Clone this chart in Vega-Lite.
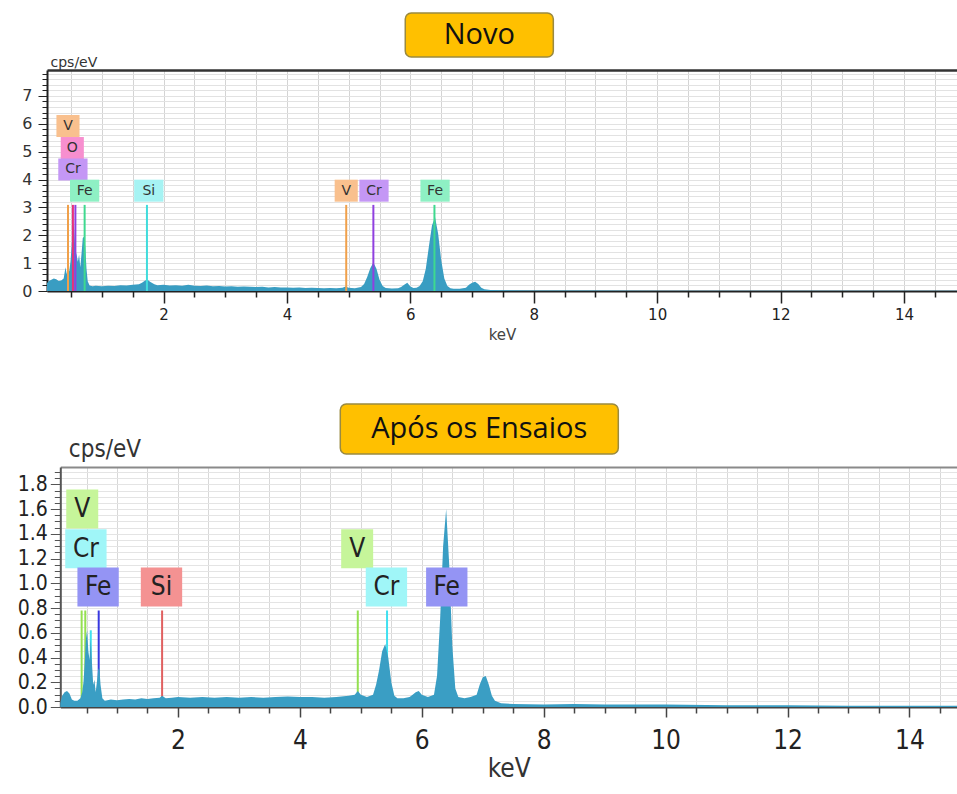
{
  "$schema": "https://vega.github.io/schema/vega-lite/v6.json",
  "padding": {"left": 17, "top": 12, "right": 0, "bottom": 0},
  "bounds": "flush",
  "spacing": 13,
  "resolve": {"scale": {"fill": "independent", "stroke": "independent"}},
  "config": {"view": {"stroke": null}},
  "datasets": {
    "novo": [
      {"keV": 0.11, "cps": 0.28}, {"keV": 0.14, "cps": 0.36}, {"keV": 0.18, "cps": 0.4}, {"keV": 0.22, "cps": 0.45},
      {"keV": 0.26, "cps": 0.42}, {"keV": 0.3, "cps": 0.36}, {"keV": 0.34, "cps": 0.38}, {"keV": 0.38, "cps": 0.45},
      {"keV": 0.41, "cps": 0.85}, {"keV": 0.43, "cps": 0.6}, {"keV": 0.45, "cps": 0.9}, {"keV": 0.47, "cps": 0.7},
      {"keV": 0.49, "cps": 1.05}, {"keV": 0.51, "cps": 1.6}, {"keV": 0.53, "cps": 2.45}, {"keV": 0.55, "cps": 2.2},
      {"keV": 0.57, "cps": 1.45}, {"keV": 0.59, "cps": 1.3}, {"keV": 0.61, "cps": 1.05}, {"keV": 0.63, "cps": 1.3},
      {"keV": 0.65, "cps": 0.85}, {"keV": 0.67, "cps": 1.35}, {"keV": 0.69, "cps": 1.9}, {"keV": 0.71, "cps": 1.95},
      {"keV": 0.73, "cps": 1.6}, {"keV": 0.75, "cps": 0.8}, {"keV": 0.77, "cps": 0.35}, {"keV": 0.8, "cps": 0.2},
      {"keV": 0.85, "cps": 0.17}, {"keV": 0.9, "cps": 0.19}, {"keV": 1.0, "cps": 0.17}, {"keV": 1.1, "cps": 0.19},
      {"keV": 1.2, "cps": 0.18}, {"keV": 1.3, "cps": 0.21}, {"keV": 1.4, "cps": 0.2}, {"keV": 1.5, "cps": 0.22},
      {"keV": 1.6, "cps": 0.24}, {"keV": 1.65, "cps": 0.3}, {"keV": 1.7, "cps": 0.38}, {"keV": 1.74, "cps": 0.4},
      {"keV": 1.78, "cps": 0.33}, {"keV": 1.85, "cps": 0.24}, {"keV": 1.9, "cps": 0.21}, {"keV": 2.0, "cps": 0.22},
      {"keV": 2.1, "cps": 0.2}, {"keV": 2.2, "cps": 0.21}, {"keV": 2.3, "cps": 0.19}, {"keV": 2.4, "cps": 0.22},
      {"keV": 2.5, "cps": 0.19}, {"keV": 2.6, "cps": 0.18}, {"keV": 2.7, "cps": 0.2}, {"keV": 2.8, "cps": 0.17},
      {"keV": 2.9, "cps": 0.18}, {"keV": 3.0, "cps": 0.16}, {"keV": 3.1, "cps": 0.17}, {"keV": 3.2, "cps": 0.15},
      {"keV": 3.3, "cps": 0.16}, {"keV": 3.4, "cps": 0.15}, {"keV": 3.5, "cps": 0.14}, {"keV": 3.6, "cps": 0.15},
      {"keV": 3.7, "cps": 0.13}, {"keV": 3.8, "cps": 0.14}, {"keV": 3.9, "cps": 0.13}, {"keV": 4.0, "cps": 0.13},
      {"keV": 4.1, "cps": 0.12}, {"keV": 4.2, "cps": 0.13}, {"keV": 4.3, "cps": 0.11}, {"keV": 4.4, "cps": 0.12},
      {"keV": 4.5, "cps": 0.11}, {"keV": 4.6, "cps": 0.1}, {"keV": 4.7, "cps": 0.11}, {"keV": 4.8, "cps": 0.1},
      {"keV": 4.9, "cps": 0.12}, {"keV": 4.95, "cps": 0.16}, {"keV": 5.0, "cps": 0.12}, {"keV": 5.1, "cps": 0.1},
      {"keV": 5.2, "cps": 0.14}, {"keV": 5.25, "cps": 0.25}, {"keV": 5.3, "cps": 0.5}, {"keV": 5.35, "cps": 0.82},
      {"keV": 5.4, "cps": 1.02}, {"keV": 5.45, "cps": 0.8}, {"keV": 5.5, "cps": 0.4}, {"keV": 5.55, "cps": 0.18},
      {"keV": 5.6, "cps": 0.11}, {"keV": 5.7, "cps": 0.09}, {"keV": 5.8, "cps": 0.1}, {"keV": 5.85, "cps": 0.14},
      {"keV": 5.9, "cps": 0.22}, {"keV": 5.95, "cps": 0.3}, {"keV": 6.0, "cps": 0.16}, {"keV": 6.05, "cps": 0.11},
      {"keV": 6.1, "cps": 0.12}, {"keV": 6.15, "cps": 0.18}, {"keV": 6.2, "cps": 0.35}, {"keV": 6.25, "cps": 0.8},
      {"keV": 6.3, "cps": 1.6}, {"keV": 6.35, "cps": 2.35}, {"keV": 6.4, "cps": 2.65}, {"keV": 6.45, "cps": 2.05},
      {"keV": 6.5, "cps": 1.1}, {"keV": 6.55, "cps": 0.45}, {"keV": 6.6, "cps": 0.18}, {"keV": 6.65, "cps": 0.1},
      {"keV": 6.7, "cps": 0.08}, {"keV": 6.8, "cps": 0.08}, {"keV": 6.9, "cps": 0.12}, {"keV": 6.95, "cps": 0.22},
      {"keV": 7.0, "cps": 0.3}, {"keV": 7.05, "cps": 0.33}, {"keV": 7.1, "cps": 0.25}, {"keV": 7.15, "cps": 0.12},
      {"keV": 7.2, "cps": 0.06}, {"keV": 7.3, "cps": 0.04}, {"keV": 7.5, "cps": 0.03}, {"keV": 8.0, "cps": 0.02},
      {"keV": 9.0, "cps": 0.015}, {"keV": 10.0, "cps": 0.01}, {"keV": 11.0, "cps": 0.01}, {"keV": 12.0, "cps": 0.01},
      {"keV": 13.0, "cps": 0.01}, {"keV": 14.0, "cps": 0.01}, {"keV": 14.86, "cps": 0.01}
    ],
    "novoLines": [
      {"el": "V", "line": 0.45, "h": 3.09}, {"el": "O", "line": 0.53, "h": 3.09}, {"el": "Cr", "line": 0.57, "h": 3.09},
      {"el": "Fe", "line": 0.72, "h": 3.09}, {"el": "Si", "line": 1.73, "h": 3.09}, {"el": "V", "line": 4.96, "h": 3.09},
      {"el": "Cr", "line": 5.4, "h": 3.09}, {"el": "Fe", "line": 6.39, "h": 3.09}
    ],
    "novoLabels": [
      {"el": "V", "lx": 0.45, "ly": 5.92}, {"el": "O", "lx": 0.52, "ly": 5.13}, {"el": "Cr", "lx": 0.53, "ly": 4.36},
      {"el": "Fe", "lx": 0.72, "ly": 3.6}, {"el": "Si", "lx": 1.76, "ly": 3.6}, {"el": "V", "lx": 4.96, "ly": 3.6},
      {"el": "Cr", "lx": 5.41, "ly": 3.6}, {"el": "Fe", "lx": 6.4, "ly": 3.6}
    ],
    "apos": [
      {"keV": 0.07, "cps": 0.03}, {"keV": 0.1, "cps": 0.09}, {"keV": 0.14, "cps": 0.12}, {"keV": 0.18, "cps": 0.13},
      {"keV": 0.22, "cps": 0.11}, {"keV": 0.26, "cps": 0.06}, {"keV": 0.3, "cps": 0.05}, {"keV": 0.35, "cps": 0.05},
      {"keV": 0.4, "cps": 0.07}, {"keV": 0.43, "cps": 0.12}, {"keV": 0.45, "cps": 0.2}, {"keV": 0.47, "cps": 0.35},
      {"keV": 0.49, "cps": 0.55}, {"keV": 0.51, "cps": 0.62}, {"keV": 0.53, "cps": 0.45}, {"keV": 0.55, "cps": 0.38},
      {"keV": 0.57, "cps": 0.55}, {"keV": 0.59, "cps": 0.35}, {"keV": 0.61, "cps": 0.18}, {"keV": 0.63, "cps": 0.22},
      {"keV": 0.65, "cps": 0.12}, {"keV": 0.67, "cps": 0.2}, {"keV": 0.69, "cps": 0.3}, {"keV": 0.71, "cps": 0.32},
      {"keV": 0.73, "cps": 0.18}, {"keV": 0.76, "cps": 0.07}, {"keV": 0.8, "cps": 0.05}, {"keV": 0.9, "cps": 0.06},
      {"keV": 1.0, "cps": 0.055}, {"keV": 1.1, "cps": 0.06}, {"keV": 1.2, "cps": 0.065}, {"keV": 1.3, "cps": 0.06},
      {"keV": 1.4, "cps": 0.07}, {"keV": 1.5, "cps": 0.065}, {"keV": 1.6, "cps": 0.07}, {"keV": 1.7, "cps": 0.075},
      {"keV": 1.74, "cps": 0.09}, {"keV": 1.8, "cps": 0.07}, {"keV": 1.9, "cps": 0.075}, {"keV": 2.0, "cps": 0.08},
      {"keV": 2.2, "cps": 0.075}, {"keV": 2.4, "cps": 0.08}, {"keV": 2.6, "cps": 0.075}, {"keV": 2.8, "cps": 0.08},
      {"keV": 3.0, "cps": 0.075}, {"keV": 3.2, "cps": 0.08}, {"keV": 3.4, "cps": 0.075}, {"keV": 3.6, "cps": 0.08},
      {"keV": 3.8, "cps": 0.085}, {"keV": 4.0, "cps": 0.08}, {"keV": 4.2, "cps": 0.08}, {"keV": 4.4, "cps": 0.075},
      {"keV": 4.6, "cps": 0.08}, {"keV": 4.8, "cps": 0.09}, {"keV": 4.9, "cps": 0.1}, {"keV": 4.95, "cps": 0.13},
      {"keV": 5.0, "cps": 0.1}, {"keV": 5.1, "cps": 0.08}, {"keV": 5.2, "cps": 0.1}, {"keV": 5.25, "cps": 0.18},
      {"keV": 5.3, "cps": 0.3}, {"keV": 5.35, "cps": 0.45}, {"keV": 5.4, "cps": 0.51}, {"keV": 5.45, "cps": 0.4},
      {"keV": 5.5, "cps": 0.2}, {"keV": 5.55, "cps": 0.09}, {"keV": 5.6, "cps": 0.07}, {"keV": 5.7, "cps": 0.07},
      {"keV": 5.8, "cps": 0.08}, {"keV": 5.85, "cps": 0.1}, {"keV": 5.9, "cps": 0.12}, {"keV": 5.95, "cps": 0.13},
      {"keV": 6.0, "cps": 0.1}, {"keV": 6.1, "cps": 0.08}, {"keV": 6.2, "cps": 0.1}, {"keV": 6.25, "cps": 0.25},
      {"keV": 6.3, "cps": 0.7}, {"keV": 6.35, "cps": 1.3}, {"keV": 6.4, "cps": 1.6}, {"keV": 6.45, "cps": 1.15},
      {"keV": 6.5, "cps": 0.5}, {"keV": 6.55, "cps": 0.15}, {"keV": 6.6, "cps": 0.08}, {"keV": 6.7, "cps": 0.07},
      {"keV": 6.8, "cps": 0.08}, {"keV": 6.9, "cps": 0.1}, {"keV": 6.95, "cps": 0.18}, {"keV": 7.0, "cps": 0.24},
      {"keV": 7.05, "cps": 0.25}, {"keV": 7.1, "cps": 0.18}, {"keV": 7.15, "cps": 0.09}, {"keV": 7.2, "cps": 0.05},
      {"keV": 7.3, "cps": 0.03}, {"keV": 7.5, "cps": 0.025}, {"keV": 8.0, "cps": 0.02}, {"keV": 8.5, "cps": 0.025},
      {"keV": 9.0, "cps": 0.02}, {"keV": 9.5, "cps": 0.02}, {"keV": 10.0, "cps": 0.02}, {"keV": 11.0, "cps": 0.015},
      {"keV": 12.0, "cps": 0.015}, {"keV": 13.0, "cps": 0.01}, {"keV": 14.0, "cps": 0.01}, {"keV": 14.78, "cps": 0.01}
    ],
    "aposLines": [
      {"el": "V", "line": 0.42, "h": 0.78}, {"el": "V", "line": 0.48, "h": 0.78}, {"el": "Cr", "line": 0.57, "h": 0.62},
      {"el": "Fe", "line": 0.7, "h": 0.78}, {"el": "Si", "line": 1.74, "h": 0.78}, {"el": "V", "line": 4.95, "h": 0.78},
      {"el": "Cr", "line": 5.43, "h": 0.78}, {"el": "Fe", "line": 6.4, "h": 0.78}
    ],
    "aposLabels": [
      {"el": "V", "lx": 0.43, "ly": 1.6}, {"el": "Cr", "lx": 0.49, "ly": 1.28}, {"el": "Fe", "lx": 0.69, "ly": 0.97},
      {"el": "Si", "lx": 1.73, "ly": 0.97}, {"el": "V", "lx": 4.94, "ly": 1.28}, {"el": "Cr", "lx": 5.42, "ly": 0.97},
      {"el": "Fe", "lx": 6.41, "ly": 0.97}
    ]
  },
  "vconcat": [
    {
      "width": 910,
      "height": 44,
      "data": {"values": [{"t": "Novo"}]},
      "layer": [
        {
          "mark": {"type": "rect", "fill": "#ffc000", "stroke": "#9a8a40", "strokeWidth": 1.5, "cornerRadius": 6},
          "encoding": {
            "x": {"datum": 0.3937, "type": "quantitative", "scale": {"domain": [0, 1]}, "axis": null},
            "x2": {"datum": 0.5564},
            "y": {"datum": 0, "type": "quantitative", "scale": {"domain": [0, 1]}, "axis": null},
            "y2": {"datum": 1}
          }
        },
        {
          "mark": {"type": "text", "font": "Open Sans", "fontSize": 29, "color": "#111", "baseline": "middle"},
          "encoding": {
            "x": {"datum": 0.475, "type": "quantitative", "scale": {"domain": [0, 1]}, "axis": null},
            "y": {"datum": 0.5, "type": "quantitative", "scale": {"domain": [0, 1]}, "axis": null},
            "text": {"field": "t"}
          }
        }
      ]
    },
    {
      "width": 910,
      "height": 221,
      "resolve": {"axis": {"x": "independent"}},
      "layer": [
        {
          "data": {"name": "novo"},
          "mark": {"type": "area", "color": "#399dc2"},
          "encoding": {
            "x": {
              "field": "keV", "type": "quantitative",
              "scale": {"domain": [0.11, 14.86], "nice": false, "zero": false},
              "axis": {
                "title": "keV", "tickCount": 200,
                "values": [0.5, 1, 1.5, 2, 2.5, 3, 3.5, 4, 4.5, 5, 5.5, 6, 6.5, 7, 7.5, 8, 8.5, 9, 9.5, 10, 10.5, 11, 11.5, 12, 12.5, 13, 13.5, 14, 14.5],
                "labelExpr": "datum.value % 2 === 0 ? format(datum.value, 'd') : ''",
                "labelOverlap": false, "labelFlush": false,
                "tickSize": {"condition": {"test": "datum.value % 2 === 0", "value": 12}, "value": 6},
                "tickColor": "#222", "tickWidth": 1.5, "domainColor": "#222", "domainWidth": 2,
                "grid": true, "gridColor": "#d4d4d4",
                "labelFont": "DejaVu Sans", "labelFontSize": 15, "labelColor": "#222", "labelPadding": 4,
                "titleFont": "DejaVu Sans", "titleFontSize": 15, "titleFontWeight": "normal", "titleColor": "#444", "titlePadding": 5
              }
            },
            "y": {
              "field": "cps", "type": "quantitative",
              "scale": {"domain": [0, 7.93], "nice": false},
              "axis": {
                "title": "cps/eV", "titleAngle": 0, "titleAlign": "left", "titleBaseline": "alphabetic", "titleX": 3, "titleY": -4,
                "titleFont": "DejaVu Sans", "titleFontSize": 14, "titleFontWeight": "normal", "titleColor": "#333",
                "tickCount": 200,
                "values": [0, 0.2, 0.4, 0.6, 0.8, 1, 1.2, 1.4, 1.6, 1.8, 2, 2.2, 2.4, 2.6, 2.8, 3, 3.2, 3.4, 3.6, 3.8, 4, 4.2, 4.4, 4.6, 4.8, 5, 5.2, 5.4, 5.6, 5.8, 6, 6.2, 6.4, 6.6, 6.8, 7, 7.2, 7.4, 7.6, 7.8],
                "labelExpr": "datum.value % 1 === 0 ? format(datum.value, 'd') : ''",
                "labelOverlap": false, "labelFlush": false,
                "tickSize": {"condition": {"test": "datum.value % 1 === 0", "value": 9}, "value": 5},
                "tickColor": "#222", "domainColor": "#222", "domainWidth": 2,
                "grid": true, "gridColor": "#e2e2e2",
                "labelFont": "DejaVu Sans", "labelFontSize": 16, "labelColor": "#333", "labelPadding": 6
              }
            }
          }
        },
        {
          "data": {"name": "novoLines"},
          "mark": {"type": "rule", "strokeWidth": 2},
          "encoding": {
            "x": {
              "field": "line", "type": "quantitative",
              "scale": {"domain": [0.11, 14.86], "nice": false, "zero": false},
              "axis": {"orient": "top", "labels": false, "ticks": false, "grid": false, "title": null, "domainColor": "#333", "domainWidth": 2.5}
            },
            "y": {"field": "h", "type": "quantitative", "scale": {"domain": [0, 7.93], "nice": false}},
            "y2": {"datum": 0},
            "stroke": {
              "field": "el", "type": "nominal", "legend": null,
              "scale": {"domain": ["V", "O", "Cr", "Fe", "Si"], "range": ["#f0a04a", "#e8307a", "#9040e0", "#3fd98f", "#40dcdc"]}
            }
          }
        },
        {
          "data": {"name": "novoLabels"},
          "mark": {"type": "point", "filled": true, "opacity": 1, "size": 484, "strokeWidth": 0},
          "encoding": {
            "x": {"field": "lx", "type": "quantitative", "scale": {"domain": [0.11, 14.86], "nice": false, "zero": false}, "axis": null},
            "y": {"field": "ly", "type": "quantitative", "scale": {"domain": [0, 7.93], "nice": false}},
            "fill": {
              "field": "el", "type": "nominal", "legend": null,
              "scale": {"domain": ["V", "O", "Cr", "Fe", "Si"], "range": ["#f9c08e", "#f78fcf", "#c497f5", "#8ef0c4", "#a6f3f3"]}
            },
            "shape": {"condition": {"test": "length(datum.el) > 1", "value": "M-1.33,-1H1.33V1H-1.33Z"}, "value": "M-1.05,-1H1.05V1H-1.05Z"}
          }
        },
        {
          "data": {"name": "novoLabels"},
          "mark": {"type": "text", "font": "DejaVu Sans", "fontSize": 14, "color": "#333", "baseline": "middle"},
          "encoding": {
            "x": {"field": "lx", "type": "quantitative", "scale": {"domain": [0.11, 14.86], "nice": false, "zero": false}, "axis": null},
            "y": {"field": "ly", "type": "quantitative", "scale": {"domain": [0, 7.93], "nice": false}},
            "text": {"field": "el"}
          }
        }
      ]
    },
    {
      "width": 910,
      "height": 150,
      "data": {"values": [{"t": "Após os Ensaios"}]},
      "layer": [
        {
          "mark": {"type": "rect", "fill": "#ffc000", "stroke": "#9a8a40", "strokeWidth": 1.5, "cornerRadius": 6},
          "encoding": {
            "x": {"datum": 0.3223, "type": "quantitative", "scale": {"domain": [0, 1]}, "axis": null},
            "x2": {"datum": 0.6278},
            "y": {"datum": 0, "type": "quantitative", "scale": {"domain": [0, 1]}, "axis": null},
            "y2": {"datum": 0.3333}
          }
        },
        {
          "mark": {"type": "text", "font": "Open Sans", "fontSize": 29, "color": "#111", "baseline": "middle"},
          "encoding": {
            "x": {"datum": 0.475, "type": "quantitative", "scale": {"domain": [0, 1]}, "axis": null},
            "y": {"datum": 0.1667, "type": "quantitative", "scale": {"domain": [0, 1]}, "axis": null},
            "text": {"field": "t"}
          }
        }
      ]
    },
    {
      "width": 910,
      "height": 240,
      "resolve": {"axis": {"x": "independent"}},
      "layer": [
        {
          "data": {"name": "aposLines"},
          "mark": {"type": "rule", "strokeWidth": 2},
          "encoding": {
            "x": {
              "field": "line", "type": "quantitative",
              "scale": {"domain": [0.07, 14.78], "range": [13.3, 910], "nice": false, "zero": false},
              "axis": {"orient": "top", "labels": false, "ticks": false, "grid": false, "title": null, "domainColor": "#8a8a8a", "domainWidth": 2}
            },
            "y": {"field": "h", "type": "quantitative", "scale": {"domain": [0, 1.94], "nice": false}},
            "y2": {"datum": 0},
            "stroke": {
              "field": "el", "type": "nominal", "legend": null,
              "scale": {"domain": ["V", "Cr", "Fe", "Si"], "range": ["#94e050", "#40e0f0", "#3838e0", "#e06060"]}
            }
          }
        },
        {
          "data": {"name": "apos"},
          "mark": {"type": "area", "color": "#3a9ec4"},
          "encoding": {
            "x": {
              "field": "keV", "type": "quantitative",
              "scale": {"domain": [0.07, 14.78], "range": [13.3, 910], "nice": false, "zero": false},
              "axis": {
                "title": "keV", "tickCount": 200,
                "values": [0.5, 1, 1.5, 2, 2.5, 3, 3.5, 4, 4.5, 5, 5.5, 6, 6.5, 7, 7.5, 8, 8.5, 9, 9.5, 10, 10.5, 11, 11.5, 12, 12.5, 13, 13.5, 14, 14.5],
                "labelExpr": "datum.value % 2 === 0 ? format(datum.value, 'd') : ''",
                "labelOverlap": false, "labelFlush": false,
                "tickSize": {"condition": {"test": "datum.value % 2 === 0", "value": 10}, "value": 6},
                "tickColor": "#444", "tickWidth": 1.5, "domainColor": "#444", "domainWidth": 2,
                "grid": true, "gridColor": "#d8d8d8",
                "labelFont": "DejaVu Sans Condensed", "labelFontSize": 26, "labelColor": "#222", "labelPadding": 10,
                "titleFont": "DejaVu Sans Condensed", "titleFontSize": 26, "titleFontWeight": "normal", "titleColor": "#333", "titlePadding": 2
              }
            },
            "y": {
              "field": "cps", "type": "quantitative",
              "scale": {"domain": [0, 1.94], "nice": false},
              "axis": {
                "offset": -13.3,
                "title": "cps/eV", "titleAngle": 0, "titleAlign": "left", "titleBaseline": "alphabetic", "titleX": 8, "titleY": -11,
                "titleFont": "DejaVu Sans Condensed", "titleFontSize": 24, "titleFontWeight": "normal", "titleColor": "#333",
                "tickCount": 200,
                "values": [0, 0.05, 0.1, 0.15, 0.2, 0.25, 0.3, 0.35, 0.4, 0.45, 0.5, 0.55, 0.6, 0.65, 0.7, 0.75, 0.8, 0.85, 0.9, 0.95, 1, 1.05, 1.1, 1.15, 1.2, 1.25, 1.3, 1.35, 1.4, 1.45, 1.5, 1.55, 1.6, 1.65, 1.7, 1.75, 1.8, 1.85, 1.9],
                "labelExpr": "round(datum.value * 100) % 20 === 0 ? format(datum.value, '.1f') : ''",
                "labelOverlap": false, "labelFlush": false,
                "tickSize": {"condition": {"test": "round(datum.value * 100) % 20 === 0", "value": 10}, "value": 6},
                "tickColor": "#555", "domainColor": "#555", "domainWidth": 2,
                "grid": true, "gridColor": "#e4e4e4",
                "labelFont": "DejaVu Sans Condensed", "labelFontSize": 21, "labelColor": "#222", "labelPadding": 3
              }
            }
          }
        },
        {
          "data": {"name": "aposLabels"},
          "mark": {"type": "point", "filled": true, "opacity": 1, "size": 1521, "strokeWidth": 0},
          "encoding": {
            "x": {"field": "lx", "type": "quantitative", "scale": {"domain": [0.07, 14.78], "range": [13.3, 910], "nice": false, "zero": false}, "axis": null},
            "y": {"field": "ly", "type": "quantitative", "scale": {"domain": [0, 1.94], "nice": false}},
            "fill": {
              "field": "el", "type": "nominal", "legend": null,
              "scale": {"domain": ["V", "Cr", "Fe", "Si"], "range": ["#c6f59a", "#a0f6f8", "#9494f4", "#f49292"]}
            },
            "shape": {"condition": {"test": "length(datum.el) > 1", "value": "M-1.06,-1H1.06V1H-1.06Z"}, "value": "M-0.82,-1H0.82V1H-0.82Z"}
          }
        },
        {
          "data": {"name": "aposLabels"},
          "mark": {"type": "text", "font": "DejaVu Sans Condensed", "fontSize": 26, "color": "#222", "baseline": "middle"},
          "encoding": {
            "x": {"field": "lx", "type": "quantitative", "scale": {"domain": [0.07, 14.78], "range": [13.3, 910], "nice": false, "zero": false}, "axis": null},
            "y": {"field": "ly", "type": "quantitative", "scale": {"domain": [0, 1.94], "nice": false}},
            "text": {"field": "el"}
          }
        }
      ]
    }
  ]
}
